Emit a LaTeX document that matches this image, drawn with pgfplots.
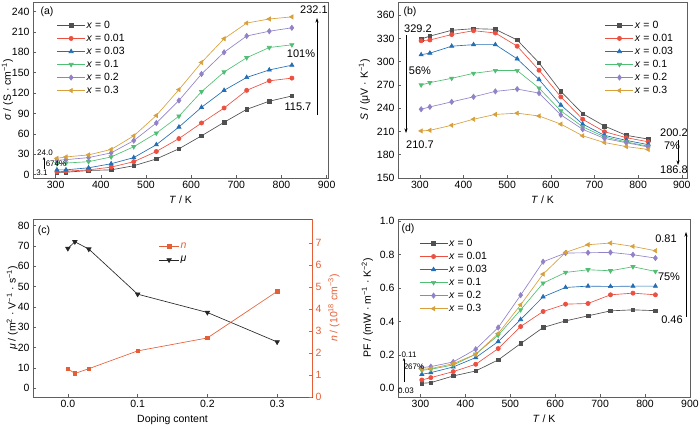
\documentclass[border=0pt]{standalone}
\usepackage{fontspec}
\setmainfont{Liberation Sans}
\usepackage{pgfplots}
\pgfplotsset{compat=1.18}
\usetikzlibrary{arrows.meta}

\definecolor{cA}{RGB}{80,80,80}
\definecolor{cB}{RGB}{235,80,65}
\definecolor{cC}{RGB}{35,110,180}
\definecolor{cD}{RGB}{80,190,115}
\definecolor{cE}{RGB}{145,130,200}
\definecolor{cF}{RGB}{215,160,60}
\definecolor{cN}{RGB}{228,95,55}
\definecolor{axc}{RGB}{95,95,95}

\newcommand{\fs}{\fontsize{10.5}{12}\selectfont}
\newcommand{\fa}{\fontsize{11}{13}\selectfont}
\newcommand{\fsm}{\fontsize{8}{9}\selectfont}

\pgfplotsset{
  panel/.style={
    scale only axis,
    axis line style={draw=axc, line width=0.6pt},
    tick style={draw=axc, line width=0.5pt},
    tick align=inside, xtick pos=lower, ytick pos=left,
    major tick length=3pt,
    tick label style={font=\fs},
    label style={font=\fs},
    /pgf/number format/assume math mode=true,
    legend style={draw=none, fill=none, font=\fs, anchor=north west,
      row sep=1.8pt, inner sep=0pt, nodes={inner sep=1.2pt}},
    legend cell align=left,
    legend image code/.code={\draw[mark repeat=2, mark phase=2]
      plot coordinates {(0pt,0pt) (14pt,0pt) (28pt,0pt)};},
    every axis plot/.append style={line width=0.65pt, mark size=2pt},
  },
  s0/.style={color=cA, mark=square*, mark size=1.8pt},
  s1/.style={color=cB, mark=*, mark size=2.1pt},
  s2/.style={color=cC, mark=triangle*, mark size=2.4pt},
  s3/.style={color=cD, mark=triangle*, mark size=2.4pt, mark options={rotate=180}},
  s4/.style={color=cE, mark=diamond*, mark size=2.6pt},
  s5/.style={color=cF, mark=triangle*, mark size=2.4pt, mark options={rotate=90}},
}

\begin{document}
\begin{tikzpicture}[x=1pt,y=1pt]
\useasboundingbox (0,0) rectangle (700,428);

% ---------------- (a) ----------------
\begin{axis}[panel, at={(33pt,250pt)}, anchor=south west,
  width=295pt, height=176pt,
  xmin=250, xmax=903, ymin=-5, ymax=254,
  xtick={300,400,...,900}, ytick={0,30,...,240},
  xlabel={\textit{T} / K},
  ylabel={\textit{σ} / (S · cm\textsuperscript{−1})},
  ylabel shift=-8pt,
  legend style={at={(0.08,0.9)}},
]
\addplot[s0] coordinates {(303,3.1)(323,3.5)(373,6)(423,7)(473,13)(523,23)(573,38)(623,57)(673,77)(723,96)(773,108)(823,115.7)};
\addlegendentry{\textit{x} = 0}
\addplot[s1] coordinates {(303,4)(323,5)(373,7)(423,11)(473,19)(523,34)(573,53)(623,76)(673,98)(723,124)(773,138)(823,142)};
\addlegendentry{\textit{x} = 0.01}
\addplot[s2] coordinates {(303,7)(323,7)(373,10)(423,16)(473,25)(523,44)(573,70)(623,99)(673,124)(723,143)(773,154)(823,161)};
\addlegendentry{\textit{x} = 0.03}
\addplot[s3] coordinates {(303,16)(323,17)(373,19)(423,26)(473,41)(523,61)(573,86)(623,122)(673,151)(723,172)(773,187)(823,191)};
\addlegendentry{\textit{x} = 0.1}
\addplot[s4] coordinates {(303,21)(323,22)(373,25)(423,32)(473,50)(523,76)(573,109)(623,148)(673,180)(723,204)(773,211)(823,216)};
\addlegendentry{\textit{x} = 0.2}
\addplot[s5] coordinates {(303,24.0)(323,26)(373,29)(423,37)(473,57)(523,87)(573,125)(623,165)(673,200)(723,223)(773,229)(823,232.1)};
\addlegendentry{\textit{x} = 0.3}
\end{axis}

% ---------------- (b) ----------------
\begin{axis}[panel, at={(398pt,250pt)}, anchor=south west,
  width=289pt, height=176pt,
  xmin=250, xmax=912, ymin=150, ymax=377,
  xtick={300,400,...,900}, ytick={150,180,...,360},
  xlabel={\textit{T} / K},
  ylabel={\textit{S} / (μV · K\textsuperscript{−1})},
  legend style={at={(0.716,0.9)}},
]
\addplot[s0] coordinates {(303,329.2)(323,333)(373,340.5)(423,342.6)(473,341.8)(523,328)(573,298.5)(623,261.7)(673,233)(723,217)(773,205)(823,200.2)};
\addlegendentry{\textit{x} = 0}
\addplot[s1] coordinates {(303,327)(323,328)(373,335)(423,340)(473,337)(523,320)(573,289)(623,254.6)(673,225.8)(723,209.7)(773,202)(823,196.7)};
\addlegendentry{\textit{x} = 0.01}
\addplot[s2] coordinates {(303,309)(323,311)(373,320)(423,322)(473,322)(523,303.7)(573,277)(623,244)(673,219.5)(723,205)(773,198.5)(823,193)};
\addlegendentry{\textit{x} = 0.03}
\addplot[s3] coordinates {(303,270)(323,273)(373,278.6)(423,285)(473,288.6)(523,288.6)(573,266)(623,236.6)(673,216)(723,203)(773,196.5)(823,191)};
\addlegendentry{\textit{x} = 0.1}
\addplot[s4] coordinates {(303,238.7)(323,241.7)(373,248.2)(423,254.7)(473,261.7)(523,264.7)(573,259.5)(623,231.4)(673,212.8)(723,201)(773,195.5)(823,190)};
\addlegendentry{\textit{x} = 0.2}
\addplot[s5] coordinates {(303,210.7)(323,211.5)(373,218)(423,225.8)(473,232)(523,233.6)(573,230)(623,219.5)(673,204.4)(723,195.7)(773,190.5)(823,186.8)};
\addlegendentry{\textit{x} = 0.3}
\end{axis}

% ---------------- (c) ----------------
\begin{axis}[panel, at={(33pt,31pt)}, anchor=south west,
  width=279pt, height=178pt,
  xmin=-0.05, xmax=0.35, ymin=-4.3, ymax=83.3,
  xtick={0,0.1,0.2,0.3}, ytick={0,10,...,80},
  xticklabel style={/pgf/number format/fixed, /pgf/number format/fixed zerofill, /pgf/number format/precision=1},
  xlabel={Doping content},
  ylabel={\textit{μ} / (m\textsuperscript{2} · V\textsuperscript{−1} · s\textsuperscript{−1})},
  ylabel shift=-7pt,
  legend style={at={(0.45,0.876)}, row sep=4.4pt},
  legend image code/.code={\draw[mark repeat=2, mark phase=2]
      plot coordinates {(0pt,0pt) (10pt,0pt) (20pt,0pt)};},
]
\addlegendimage{color=cN, mark=square*, mark size=1.8pt, line width=0.65pt}
\addlegendentry{\textcolor{cN}{\textit{n}}}
\addplot[color=black!85, mark=triangle*, mark size=2.6pt, mark options={rotate=180}] coordinates {(0,68.8)(0.01,72.1)(0.03,68.5)(0.1,46.3)(0.2,37.3)(0.3,22.8)};
\addlegendentry{\textit{μ}}
\end{axis}
\begin{axis}[panel, at={(33pt,31pt)}, anchor=south west,
  width=279pt, height=178pt,
  xmin=-0.05, xmax=0.35, ymin=0, ymax=8.11,
  axis x line=none, axis y line*=right, ytick pos=right,
  ytick={0,1,...,7},
  axis line style={draw=cN, line width=0.6pt},
  tick style={draw=cN}, yticklabel style={text=cN},
  ylabel style={text=cN},
  ylabel={\textit{n} / (10\textsuperscript{18} cm\textsuperscript{−3})},
]
\addplot[color=cN, mark=square*, mark size=1.8pt] coordinates {(0,1.29)(0.01,1.07)(0.03,1.29)(0.1,2.1)(0.2,2.69)(0.3,4.81)};
\end{axis}

% ---------------- (d) ----------------
\begin{axis}[panel, at={(398pt,31pt)}, anchor=south west,
  width=292pt, height=178pt,
  xmin=250, xmax=900, ymin=-0.052, ymax=1.014,
  xtick={300,400,...,900}, ytick={0,0.2,...,1.0},
  yticklabel style={/pgf/number format/fixed, /pgf/number format/fixed zerofill, /pgf/number format/precision=1},
  xlabel={\textit{T} / K},
  ylabel={PF / (mW · m\textsuperscript{−1} · K\textsuperscript{−2})},
  legend style={at={(0.072,0.895)}},
]
\addplot[s0] coordinates {(303,0.03)(323,0.034)(373,0.074)(423,0.104)(473,0.17)(523,0.268)(573,0.364)(623,0.404)(673,0.434)(723,0.464)(773,0.47)(823,0.465)};
\addlegendentry{\textit{x} = 0}
\addplot[s1] coordinates {(303,0.05)(323,0.064)(373,0.1)(423,0.144)(473,0.238)(523,0.37)(573,0.46)(623,0.504)(673,0.508)(723,0.56)(773,0.57)(823,0.56)};
\addlegendentry{\textit{x} = 0.01}
\addplot[s2] coordinates {(303,0.084)(323,0.094)(373,0.128)(423,0.184)(473,0.28)(523,0.412)(573,0.548)(623,0.604)(673,0.612)(723,0.61)(773,0.612)(823,0.612)};
\addlegendentry{\textit{x} = 0.03}
\addplot[s3] coordinates {(303,0.108)(323,0.114)(373,0.14)(423,0.204)(473,0.318)(523,0.47)(573,0.63)(623,0.694)(673,0.71)(723,0.704)(773,0.728)(823,0.70)};
\addlegendentry{\textit{x} = 0.1}
\addplot[s4] coordinates {(303,0.124)(323,0.13)(373,0.158)(423,0.234)(473,0.364)(523,0.558)(573,0.758)(623,0.81)(673,0.812)(723,0.814)(773,0.8)(823,0.78)};
\addlegendentry{\textit{x} = 0.2}
\addplot[s5] coordinates {(303,0.114)(323,0.118)(373,0.148)(423,0.204)(473,0.328)(523,0.5)(573,0.684)(623,0.814)(673,0.86)(723,0.87)(773,0.85)(823,0.824)};
\addlegendentry{\textit{x} = 0.3}
\end{axis}

% ---------------- annotations ----------------
\tikzset{ann/.style={inner sep=0pt, font=\fa}, sann/.style={inner sep=0pt, font=\fsm},
  arr/.style={-{Stealth[length=4.5pt,width=3pt]}, line width=0.6pt, black}}
% panel labels
\node[ann, font=\fs] at (47,416) {(a)};
\node[ann, font=\fs] at (410,416) {(b)};
\node[ann, font=\fs] at (44,197) {(c)};
\node[ann, font=\fs] at (408,199) {(d)};
% (a)
\node[ann] at (314,418) {232.1};
\draw[arr] (317,313) -- (317,410);
\node[ann] at (301,374) {101\%};
\node[ann] at (298,321) {115.7};
\node[sann] at (45,275) {24.0};
\node[sann] at (56,264) {674\%};
\node[sann] at (42,255) {3.1};
\draw[-{Stealth[length=3pt,width=2.4pt]}, line width=0.5pt] (44,259) -- (44,271);
% (b)
\node[ann] at (418,399) {329.2};
\draw[arr] (406,393) -- (406,295);
\node[ann] at (420,357) {56\%};
\node[ann] at (420,283) {210.7};
\node[ann] at (674,295) {200.2};
\draw[arr] (678,288) -- (678,263);
\node[ann] at (672,282) {7\%};
\node[ann] at (674,258) {186.8};
% (d)
\node[ann] at (666,189) {0.81};
\draw[arr] (686,111) -- (686,196);
\node[ann] at (669,151) {75\%};
\node[ann] at (672,108) {0.46};
\node[sann] at (409,73) {0.11};
\node[sann] at (414,61) {267\%};
\node[sann] at (406,37) {0.03};
\draw[-{Stealth[length=3pt,width=2.4pt]}, line width=0.5pt] (404,46) -- (404,70);
\end{tikzpicture}
\end{document}
